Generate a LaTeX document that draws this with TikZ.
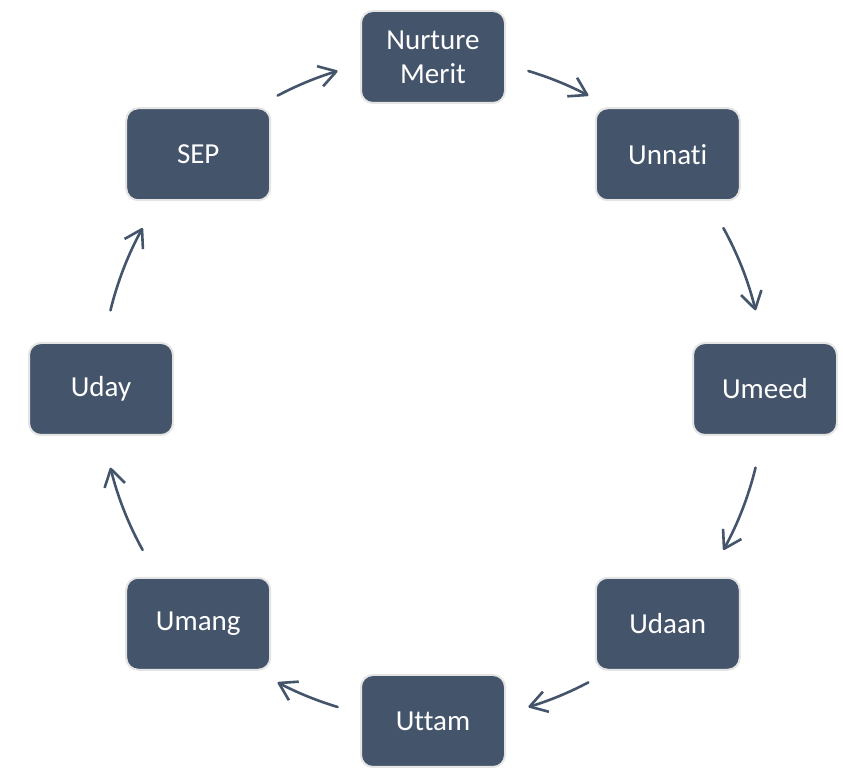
\documentclass[tikz,border=0pt]{standalone}
\usepackage{fontspec}
\setmainfont{Carlito}[Ligatures=NoCommon]
\usetikzlibrary{arrows.meta}
\definecolor{boxfill}{HTML}{44546A}
\definecolor{boxedge}{HTML}{E4E4E4}
\begin{document}
\begin{tikzpicture}[x=1pt,y=1pt,
  box/.style={draw=boxedge, line width=2pt, fill=boxfill, rounded corners=12pt,
    minimum width=144pt, minimum height=92pt, inner sep=0pt, text=white,
    align=center, font=\fontsize{29}{34}\selectfont},
  flow/.style={draw=boxfill, line width=2.6pt, line cap=round,
    -{Straight Barb[length=17pt,width=21pt,line join=round]}}]
\useasboundingbox (0,0) rectangle (843,768);
\coordinate (c) at (433,379);
\node[box] (n1) at ([shift={(90:332)}]c) {Nurture\\Merit};
\node[box] (n2) at ([shift={(45:332)}]c) {Unnati};
\node[box] (n3) at ([shift={(0:332)}]c) {Umeed};
\node[box] (n4) at ([shift={(-45:332)}]c) {Udaan};
\node[box] (n5) at ([shift={(-90:332)}]c) {Uttam};
\node[box] (n6) at ([shift={(-135:332)}]c) {Umang};
\node[box] (n7) at ([shift={(180:332)}]c) {Uday};
\node[box] (n8) at ([shift={(135:332)}]c) {SEP};
\coordinate (s1) at ([shift={(73.3:332)}]c);
\coordinate (s2) at ([shift={(29:332)}]c);
\coordinate (s3) at ([shift={(-13.7:332)}]c);
\coordinate (s4) at ([shift={(-62.1:332)}]c);
\coordinate (s5) at ([shift={(-106.7:332)}]c);
\coordinate (s6) at ([shift={(-151:332)}]c);
\coordinate (s7) at ([shift={(166.3:332)}]c);
\coordinate (s8) at ([shift={(117.9:332)}]c);
\draw[flow] (s1) arc[start angle=73.3, end angle=62.1, radius=332];
\draw[flow] (s2) arc[start angle=29, end angle=13.7, radius=332];
\draw[flow] (s3) arc[start angle=-13.7, end angle=-29, radius=332];
\draw[flow] (s4) arc[start angle=-62.1, end angle=-73.3, radius=332];
\draw[flow] (s5) arc[start angle=-106.7, end angle=-117.9, radius=332];
\draw[flow] (s6) arc[start angle=-151, end angle=-166.3, radius=332];
\draw[flow] (s7) arc[start angle=166.3, end angle=151, radius=332];
\draw[flow] (s8) arc[start angle=117.9, end angle=106.7, radius=332];
\end{tikzpicture}
\end{document}
